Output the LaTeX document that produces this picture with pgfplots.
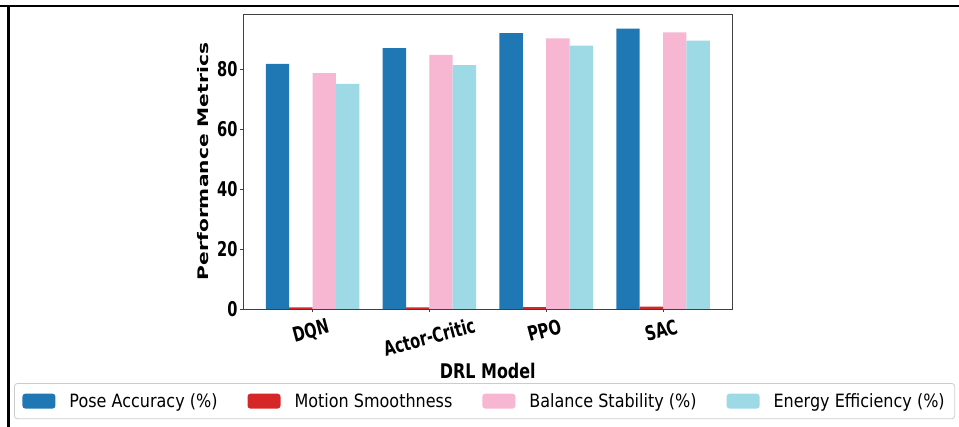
\documentclass[border=0pt]{standalone}
\usepackage{pgfplots}
\pgfplotsset{compat=1.18}
\usepackage{fontspec}
\setmainfont{DejaVu Sans}[FakeStretch=0.72]
\newfontfamily\plainfont{DejaVu Sans}
\newfontfamily\legfont{DejaVu Sans}[FakeStretch=0.875]
\newfontfamily\xlabfont{DejaVu Sans}[FakeStretch=0.79]
\definecolor{cblue}{HTML}{1F77B4}
\definecolor{cred}{HTML}{D62728}
\definecolor{cpink}{HTML}{F7B6D2}
\definecolor{ccyan}{HTML}{9EDAE5}
\begin{document}
\begin{tikzpicture}[x=1pt,y=1pt]
\useasboundingbox (0,0) rectangle (959,427);
\draw[line width=2.5pt] (0,421) -- (959,421);
\draw[line width=2.5pt] (8.5,422) -- (8.5,0);
\begin{axis}[
  at={(243.6pt,118pt)}, anchor=south west,
  scale only axis, width=488.4pt, height=295pt,
  xmin=-0.59, xmax=3.59, ymin=0, ymax=98.3,
  xtick={0,1,2,3},
  xticklabel={\ifcase\ticknum DQN\or\raisebox{-7pt}{Actor-Critic}\or PPO\or SAC\fi},
  ytick={0,20,40,60,80},
  tick align=outside, xtick pos=bottom, ytick pos=left,
  major tick length=3.5pt,
  axis line style={black!75, line width=0.8pt},
  every tick/.style={black!75, line width=0.8pt},
  /pgf/number format/assume math mode=true,
  tick label style={font=\fontsize{20.3}{22}\selectfont\bfseries},
  y tick label style={xshift=1pt},
  x tick label style={yshift=-25pt, rotate=15, anchor=base},
  xlabel={DRL Model}, ylabel={\plainfont\bfseries Performance Metrics},
  every axis x label/.style={at={(axis description cs:0.5,-0.21)}, anchor=center, font=\xlabfont\fontsize{20.2}{22}\selectfont\bfseries},
  every axis y label/.style={at={(axis description cs:-0.083,0.5)}, rotate=90, yscale=0.72, transform shape, anchor=center, font=\fontsize{20.2}{22}\selectfont},
  ybar, bar width=0.2,
  legend columns=4,
  legend style={at={(rel axis cs:-0.470,-0.251)}, anchor=north west,
    draw=black!20, rounded corners=3pt, line width=0.8pt,
    font=\legfont\fontsize{18.3}{20}\selectfont, inner xsep=8pt, inner ysep=8pt,
    /tikz/every odd column/.append style={column sep=12pt},
    /tikz/every even column/.append style={column sep=28pt}},
  legend image code/.code={\fill[#1] (0pt,-7.5pt) rectangle (33pt,7.5pt);},
]
\addplot[fill=cblue, draw=none, bar shift=-0.3] coordinates {(0,81.7) (1,86.9) (2,91.9) (3,93.4)};
\addplot[fill=cred, draw=none, bar shift=-0.1] coordinates {(0,0.55) (1,0.55) (2,0.6) (3,0.8)};
\addplot[fill=cpink, draw=none, bar shift=0.1] coordinates {(0,78.6) (1,84.7) (2,90.2) (3,92.2)};
\addplot[fill=ccyan, draw=none, bar shift=0.3] coordinates {(0,75.0) (1,81.3) (2,87.8) (3,89.4)};
\legend{Pose Accuracy (\%),Motion Smoothness,Balance Stability (\%),Energy Efficiency (\%)}
\end{axis}
\end{tikzpicture}
\end{document}
